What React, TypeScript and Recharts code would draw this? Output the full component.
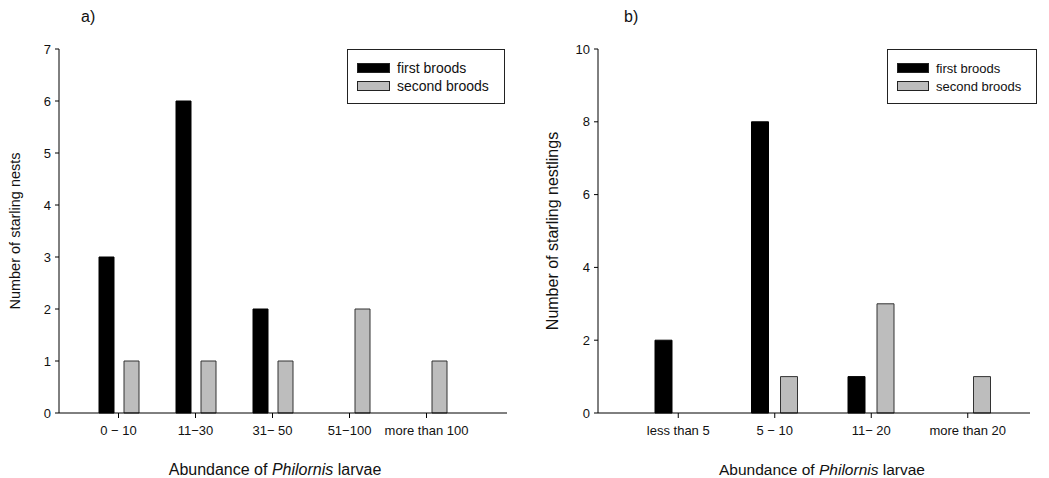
import * as React from "react";
import { BarChart, Bar, XAxis, YAxis, Label } from "recharts";

// panel a: nests per larvae class
const NEST_CLASSES = ["0 \u2212 10", "11\u221230", "31\u2212 50", "51\u2212100", "more than 100"];
const NEST_FIRST = [3, 6, 2, 0, 0];
const NEST_SECOND = [1, 1, 1, 2, 1];
const NEST_TICKS = [0, 1, 2, 3, 4, 5, 6, 7];

// panel b: nestlings per larvae class
const NESTLING_CLASSES = ["less than 5", "5 \u2212 10", "11\u2212 20", "more than 20"];
const NESTLING_FIRST = [2, 8, 1, 0];
const NESTLING_SECOND = [0, 1, 3, 1];
const NESTLING_TICKS = [0, 2, 4, 6, 8, 10];

const FONT = "'Liberation Sans', Arial, sans-serif";
const GREY = "#bdbdbd";
const EDGE = "#333";

const nestData = NEST_CLASSES.map((c, i) => ({ cls: c, first: NEST_FIRST[i], second: NEST_SECOND[i] }));
const nestlingData = NESTLING_CLASSES.map((c, i) => ({ cls: c, first: NESTLING_FIRST[i], second: NESTLING_SECOND[i] }));

function LegendBox({ left, width, fs, swW, rowH }: any) {
  const row = (fill: string, text: string) => (
    <div style={{ display: "flex", alignItems: "center", height: rowH }}>
      <span style={{ display: "inline-block", width: swW, height: 10, background: fill, border: "1px solid #222", marginRight: 7, boxSizing: "border-box" }} />
      <span>{text}</span>
    </div>
  );
  return (
    <div style={{ position: "absolute", left, top: 49, width, height: 55, border: "1px solid #222", background: "#fff",
      padding: "9px 6px 0 9px", fontFamily: FONT, fontSize: fs, color: "#111", boxSizing: "border-box" }}>
      {row("#000", "first broods")}
      {row(GREY, "second broods")}
    </div>
  );
}

function Panel({ data, ticks, max, yLabel, tag, width, left, axisW, rightM, padL, padR, barSize, barGap,
  legend, labelX, labelFs, titleX, titleFs }: any) {
  return (
    <div style={{ position: "absolute", left, top: 0, width, height: 478 }}>
      <div style={{ position: "absolute", left: tag.x, top: 8, fontFamily: FONT, fontSize: 16, color: "#111" }}>{tag.t}</div>
      <BarChart width={width} height={478} data={data} margin={{ top: 49, right: rightM, bottom: 35, left: 0 }}
        barSize={barSize} barGap={barGap}>
        <XAxis dataKey="cls" stroke="#000" tickLine={{ stroke: "#000" }} tickSize={5} tickMargin={8} interval={0}
          padding={{ left: padL, right: padR }} height={30}
          tick={{ fontSize: 13, fill: "#111", fontFamily: FONT }}>
          <Label content={() => (
            <text x={titleX} y={475} textAnchor="middle" fontFamily={FONT} fontSize={titleFs} fill="#111">
              Abundance of <tspan fontStyle="italic">Philornis</tspan> larvae
            </text>
          )} />
        </XAxis>
        <YAxis domain={[0, max]} ticks={ticks} width={axisW} stroke="#000" tickSize={4} tickMargin={4}
          allowDecimals={false} tick={{ fontSize: 13, fill: "#111", fontFamily: FONT }}>
          <Label content={() => (
            <text x={labelX} y={231} transform={`rotate(-90 ${labelX} ${231})`} textAnchor="middle"
              dominantBaseline="central" fontFamily={FONT} fontSize={labelFs} fill="#111">{yLabel}</text>
          )} />
        </YAxis>
        <Bar dataKey="first" fill="#000" stroke="#000" isAnimationActive={false} />
        <Bar dataKey="second" fill={GREY} stroke={EDGE} strokeWidth={1} isAnimationActive={false} />
      </BarChart>
      <LegendBox {...legend} />
    </div>
  );
}

export default function App() {
  return (
    <div style={{ position: "absolute", left: 0, top: 0, width: 1049, height: 478, background: "#fff" }}>
      <Panel data={nestData} ticks={NEST_TICKS} max={7} yLabel="Number of starling nests" tag={{ x: 81, t: "a)" }}
        width={520} left={0} axisW={59} rightM={13} padL={21} padR={42} barSize={15} barGap={10}
        legend={{ left: 347, width: 158, fs: 14, swW: 33, rowH: 18 }} labelX={15} labelFs={14.5}
        titleX={275} titleFs={16} />
      <Panel data={nestlingData} ticks={NESTLING_TICKS} max={10} yLabel="Number of starling nestlings" tag={{ x: 104, t: "b)" }}
        width={529} left={520} axisW={78} rightM={19} padL={32} padR={14} barSize={17} barGap={12}
        legend={{ left: 367, width: 150, fs: 13, swW: 32, rowH: 18 }} labelX={32} labelFs={16}
        titleX={302} titleFs={15.5} />
    </div>
  );
}
